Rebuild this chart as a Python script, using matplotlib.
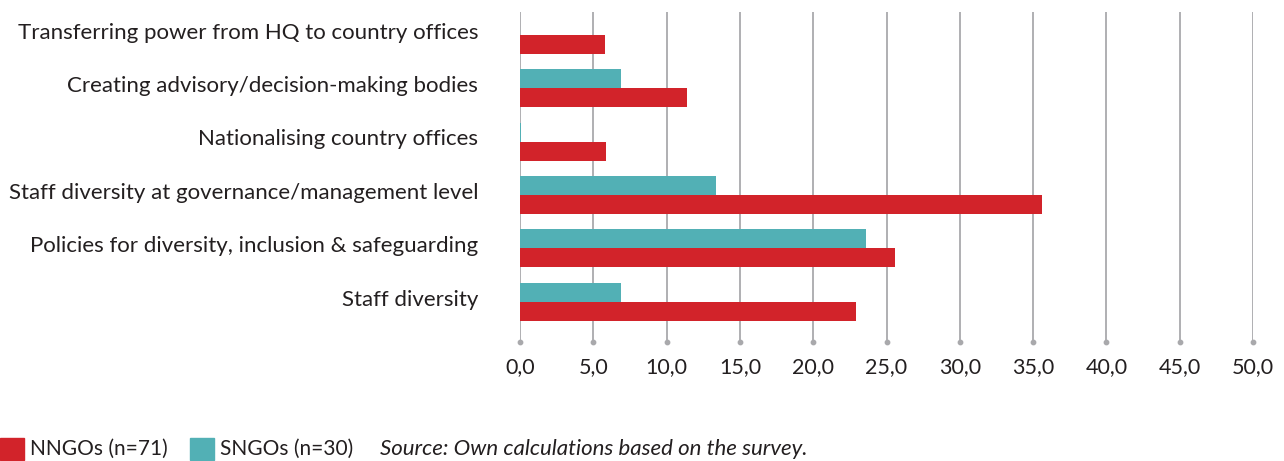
import matplotlib
matplotlib.use("Agg")
import matplotlib.pyplot as plt
import matplotlib.transforms as mtransforms
import numpy as np

categories = [
    "Transferring power from HQ to country offices",
    "Creating advisory/decision-making bodies",
    "Nationalising country offices",
    "Staff diversity at governance/management level",
    "Policies for diversity, inclusion & safeguarding",
    "Staff diversity",
]
nngo = [5.8, 11.4, 5.9, 35.6, 25.6, 22.9]
sngo = [0.0, 6.9, 0.1, 13.4, 23.6, 6.9]
xticks = [0, 5, 10, 15, 20, 25, 30, 35, 40, 45, 50]
xticklabels = ["0,0", "5,0", "10,0", "15,0", "20,0", "25,0", "30,0", "35,0", "40,0", "45,0", "50,0"]
legend_labels = ["NNGOs (n=71)", "SNGOs (n=30)"]
source_text = "Source: Own calculations based on the survey."

RED = "#d2232a"
TEAL = "#52b0b5"
GRID = "#a9a9ac"
TXT = "#231f20"

plt.rcParams['font.family'] = ['Lato', 'DejaVu Sans']

W, H = 1284, 461
fig = plt.figure(figsize=(W / 100, H / 100), dpi=100)
left, right, top, bottom = 520, 1253, 12, 342
ax = fig.add_axes([left / W, 1 - bottom / H, (right - left) / W, (bottom - top) / H])

y = np.arange(len(categories))
h = 0.356
ax.barh(y - h / 2, sngo, height=h, color=TEAL, zorder=3, linewidth=0)
ax.barh(y + h / 2, nngo, height=h, color=RED, zorder=3, linewidth=0)

ylo, yhi = 5.756, -0.431
ax.set_ylim(ylo, yhi)
ax.set_xlim(0, 50)

ax.vlines(xticks, yhi, ylo, color=GRID, linewidth=1.3, zorder=1)
ax.scatter(xticks, [ylo] * len(xticks), s=10, color=GRID, zorder=2, clip_on=False)

for s in ax.spines.values():
    s.set_visible(False)

ax.set_xticks(xticks)
ax.set_xticklabels(xticklabels, fontsize=15.5, color=TXT)
ax.tick_params(axis='x', length=0, pad=11)
ax.set_yticks(y)
ax.set_yticklabels(categories, fontsize=16, color=TXT)
ax.tick_params(axis='y', length=0, pad=30)
offset = mtransforms.ScaledTranslation(0, 3 / 72, fig.dpi_scale_trans)
for lab in ax.get_yticklabels():
    lab.set_transform(lab.get_transform() + offset)

# Legend row
from matplotlib.patches import Rectangle
ly = 1 - 460 / H
lh = 22 / H
fig.patches.append(Rectangle((0 / W, ly), 24 / W, lh, transform=fig.transFigure, color=RED))
fig.text(30 / W, 1 - 449 / H, legend_labels[0], fontsize=15, color=TXT, va='center', ha='left')
fig.patches.append(Rectangle((190 / W, ly), 24 / W, lh, transform=fig.transFigure, color=TEAL))
fig.text(220 / W, 1 - 449 / H, legend_labels[1], fontsize=15, color=TXT, va='center', ha='left')
fig.text(380 / W, 1 - 449 / H, source_text, fontsize=16, color=TXT, va='center', ha='left', style='italic')

fig.savefig("out.png", dpi=100)
